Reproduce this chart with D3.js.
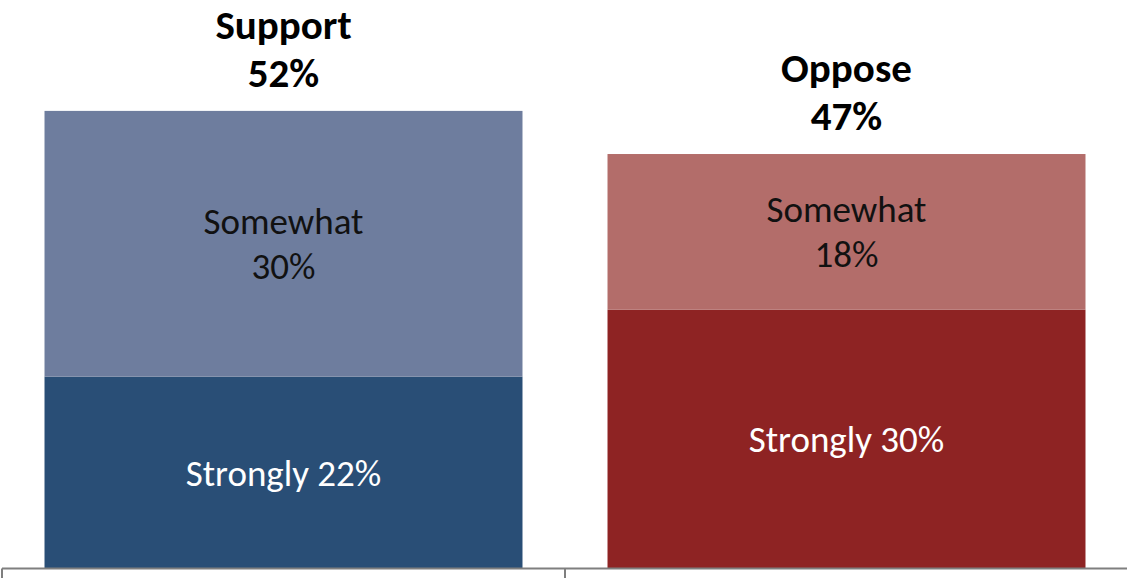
<!DOCTYPE html>
<html>
<head>
    <meta charset="utf-8">
    <title>Support vs Oppose</title>
    <script src="https://cdn.jsdelivr.net/npm/d3@7"></script>
    <style>
        body { margin: 0; background: #fff; }
        svg { display: block; font-family: Carlito, Calibri, Lato, sans-serif; }
    </style>
</head>
<body>
<svg id="chart" width="1127" height="578"></svg>
<script>
    // data
    var categories = ["Support", "Oppose"];
    var totalLabels = ["52%", "47%"];
    var strongly = [21.8, 29.4];
    var somewhat = [30.2, 17.7];
    var stronglyLabels = ["22%", "30%"];
    var somewhatLabels = ["30%", "18%"];

    var colStrong = ["#294e76", "#8e2323"];
    var colSome = ["#6e7d9e", "#b36d6a"];

    var svg = d3.select("#chart");

    var x = d3.scaleBand()
        .domain(categories)
        .range([2, 1128])
        .paddingInner(0.151)
        .paddingOuter(0.0755);

    var y = d3.scaleLinear()
        .domain([0, 60])
        .range([568.5, 40.5]);

    var rows = categories.map(function(c, i) {
        return { cat: c, i: i, s: strongly[i], w: somewhat[i] };
    });

    var g = svg.append("g");

    // strongly segment (bottom)
    g.selectAll("rect.strong")
        .data(rows)
        .enter().append("rect")
        .attr("class", "strong")
        .attr("x", function(d) { return x(d.cat); })
        .attr("width", x.bandwidth())
        .attr("y", function(d) { return y(d.s); })
        .attr("height", function(d) { return y(0) - y(d.s); })
        .attr("fill", function(d) { return colStrong[d.i]; });

    // somewhat segment (top)
    g.selectAll("rect.some")
        .data(rows)
        .enter().append("rect")
        .attr("class", "some")
        .attr("x", function(d) { return x(d.cat); })
        .attr("width", x.bandwidth())
        .attr("y", function(d) { return y(d.s + d.w); })
        .attr("height", function(d) { return y(d.s) - y(d.s + d.w); })
        .attr("fill", function(d) { return colSome[d.i]; });

    var cx = function(d) { return x(d.cat) + x.bandwidth() / 2; };

    // strongly labels
    g.selectAll("text.strong")
        .data(rows)
        .enter().append("text")
        .attr("x", cx)
        .attr("y", function(d) { return (y(0) + y(d.s)) / 2 + 13; })
        .attr("text-anchor", "middle")
        .attr("font-size", 37)
        .attr("fill", "#fff")
        .text(function(d) { return "Strongly " + stronglyLabels[d.i]; });

    // somewhat labels, two lines
    var sw = g.selectAll("text.some")
        .data(rows)
        .enter().append("text")
        .attr("text-anchor", "middle")
        .attr("font-size", 37)
        .attr("fill", "#111");
    sw.append("tspan")
        .attr("x", cx)
        .attr("y", function(d) { return (y(d.s) + y(d.s + d.w)) / 2 - 10; })
        .text("Somewhat");
    sw.append("tspan")
        .attr("x", cx)
        .attr("y", function(d) { return (y(d.s) + y(d.s + d.w)) / 2 + 35; })
        .text(function(d) { return somewhatLabels[d.i]; });

    // totals above bars
    var tt = g.selectAll("text.total")
        .data(rows)
        .enter().append("text")
        .attr("text-anchor", "middle")
        .attr("font-size", 41)
        .attr("font-weight", "bold")
        .attr("fill", "#000");
    tt.append("tspan")
        .attr("x", cx)
        .attr("y", function(d) { return y(d.s + d.w) - 72; })
        .text(function(d) { return d.cat; });
    tt.append("tspan")
        .attr("x", cx)
        .attr("y", function(d) { return y(d.s + d.w) - 24; })
        .text(function(d) { return totalLabels[d.i]; });

    // category axis: baseline plus ticks between categories
    var axis = svg.append("g").attr("stroke", "#7f7f7f");
    var r = x.range();
    axis.append("line")
        .attr("x1", r[0]).attr("x2", r[1])
        .attr("y1", y(0)).attr("y2", y(0))
        .attr("stroke-width", 2);
    var bounds = [0, 1, 2].map(function(k) { return r[0] + k * x.step(); });
    axis.selectAll("line.tick")
        .data(bounds)
        .enter().append("line")
        .attr("class", "tick")
        .attr("x1", function(d) { return d; }).attr("x2", function(d) { return d; })
        .attr("y1", y(0)).attr("y2", y(0) + 10)
        .attr("stroke-width", 2);
</script>
</body>
</html>
